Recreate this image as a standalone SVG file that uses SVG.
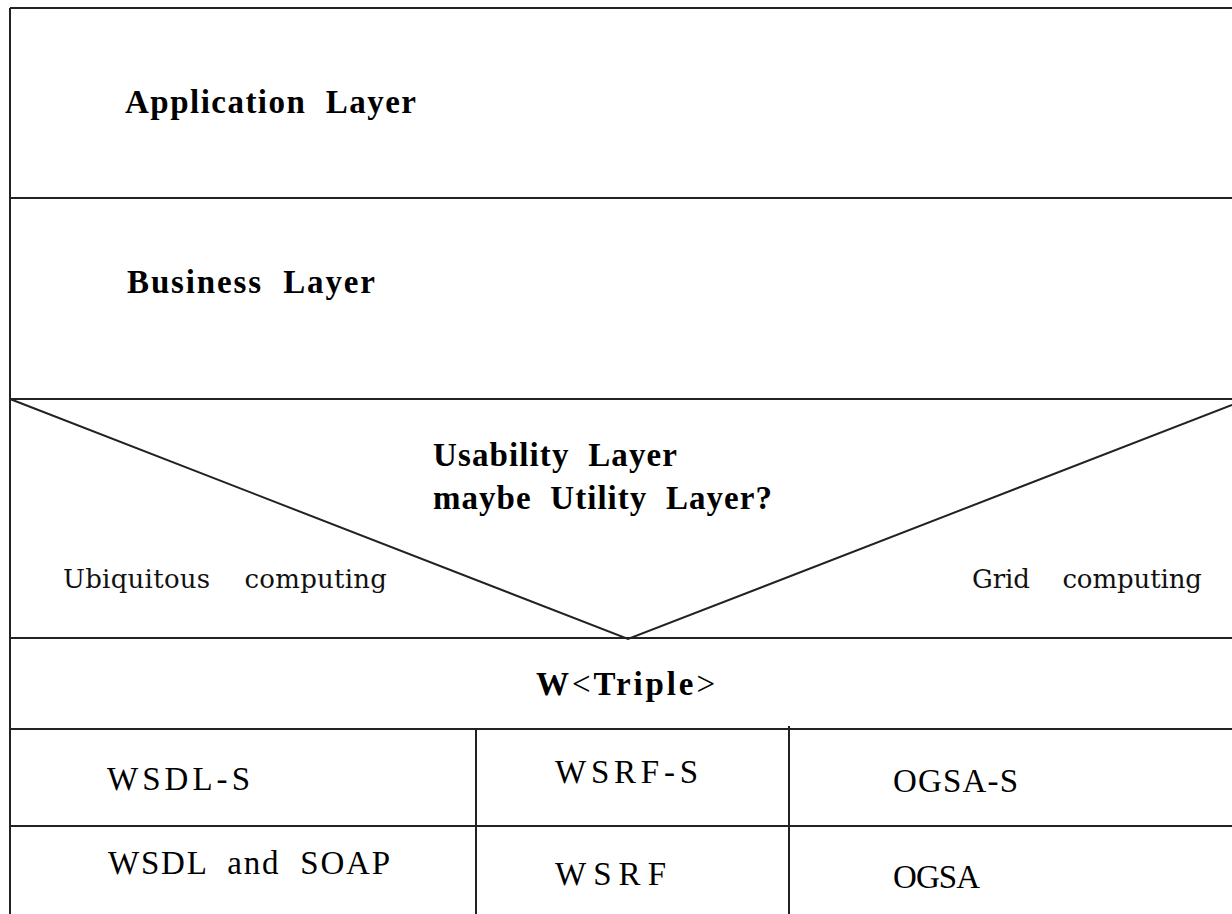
<svg xmlns="http://www.w3.org/2000/svg" width="1232" height="914" viewBox="0 0 1232 914">
<style>
.ln{stroke:#222;stroke-width:2;fill:none}
.t{font-family:"Liberation Serif",serif;font-size:33px;fill:#000}
.b{font-weight:bold}
.s{font-family:"DejaVu Serif",serif;font-size:26px;fill:#111}
</style>
<rect width="1232" height="914" fill="#fff"/>
<g id="connectors">
<line class="ln" x1="10" y1="8" x2="1232" y2="8"/>
<line class="ln" x1="10" y1="8" x2="10" y2="914"/>
<line class="ln" x1="10" y1="198" x2="1232" y2="198"/>
<line class="ln" x1="10" y1="399" x2="1232" y2="399"/>
<line class="ln" x1="10" y1="638" x2="1232" y2="638"/>
<line class="ln" x1="10" y1="729" x2="1232" y2="729"/>
<line class="ln" x1="10" y1="826" x2="1232" y2="826"/>
<line class="ln" x1="476" y1="729" x2="476" y2="914"/>
<line class="ln" x1="789" y1="726" x2="789" y2="914"/>
<polyline class="ln" points="10,399 628,639 1232,405"/>
</g>
<g id="application"><text class="t b" x="125" y="113" textLength="291" lengthAdjust="spacing" xml:space="preserve">Application  Layer</text></g>
<g id="business"><text class="t b" x="127" y="293" textLength="248" lengthAdjust="spacing" xml:space="preserve">Business  Layer</text></g>
<g id="usability"><text class="t b" x="433" y="466" textLength="244" lengthAdjust="spacing" xml:space="preserve">Usability  Layer</text><text class="t b" x="433" y="509" textLength="339" lengthAdjust="spacing" xml:space="preserve">maybe  Utility  Layer?</text></g>
<g id="ubiquitous"><text class="s" x="63" y="588" textLength="324" lengthAdjust="spacing" xml:space="preserve">Ubiquitous    computing</text></g>
<g id="grid"><text class="s" x="972" y="588" textLength="230" lengthAdjust="spacing" xml:space="preserve">Grid    computing</text></g>
<g id="wtriple"><text class="t" x="536" y="695" font-size="34" textLength="179" lengthAdjust="spacing"><tspan font-weight="bold">W</tspan>&lt;<tspan font-weight="bold">Triple</tspan>&gt;</text></g>
<g id="wsdls"><text class="t" x="107" y="790" textLength="143" lengthAdjust="spacing">WSDL-S</text></g>
<g id="wsrfs"><text class="t" x="555" y="783" textLength="143" lengthAdjust="spacing">WSRF-S</text></g>
<g id="ogsas"><text class="t" x="893" y="792" textLength="125" lengthAdjust="spacing">OGSA-S</text></g>
<g id="wsdlsoap"><text class="t" x="108" y="874" textLength="282" lengthAdjust="spacing" xml:space="preserve">WSDL  and  SOAP</text></g>
<g id="wsrf"><text class="t" x="555" y="885" textLength="111" lengthAdjust="spacing">WSRF</text></g>
<g id="ogsa"><text class="t" x="893" y="888" textLength="87" lengthAdjust="spacing">OGSA</text></g>
</svg>
